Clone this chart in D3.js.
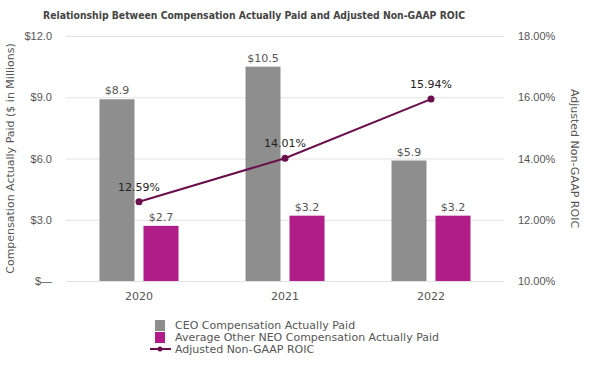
<!DOCTYPE html>
<html>
<head>
<meta charset="utf-8">
<script src="https://cdn.jsdelivr.net/npm/d3@7.9.0/dist/d3.min.js"></script>
<style>
  body { margin: 0; background: #fff; }
  svg { font-family: Verdana, "DejaVu Sans", sans-serif; }
</style>
</head>
<body>
<div id="chart"></div>
<script>
// chart data
const years = ["2020", "2021", "2022"];
const ceoPay = [8.9, 10.5, 5.9];
const neoPay = [2.7, 3.2, 3.2];
const roic = [12.59, 14.01, 15.94];
const leftTicks = [0, 3, 6, 9, 12];
const rightTicks = [10, 12, 14, 16, 18];

const width = 599;
const height = 375;
const margin = { top: 36, right: 95, bottom: 94, left: 66 };

const svg = d3
  .select("#chart")
  .append("svg")
  .attr("width", width)
  .attr("height", height);

const x = d3
  .scaleBand()
  .domain(years)
  .range([margin.left, width - margin.right]);

const yLeft = d3
  .scaleLinear()
  .domain([0, 12])
  .range([height - margin.bottom, margin.top]);

const yRight = d3
  .scaleLinear()
  .domain([10, 18])
  .range([height - margin.bottom, margin.top]);

const barW = 35;
const gap = 9;

// title (narrower than DejaVu renders it, so squeeze to the source width)
svg
  .append("text")
  .attr("x", 254)
  .attr("y", 19)
  .attr("text-anchor", "middle")
  .attr("font-size", 11)
  .attr("font-weight", "bold")
  .attr("fill", "#444")
  .attr("textLength", 422)
  .attr("lengthAdjust", "spacingAndGlyphs")
  .text("Relationship Between Compensation Actually Paid and Adjusted Non-GAAP ROIC");

// gridlines
svg
  .append("g")
  .selectAll("line")
  .data(leftTicks)
  .join("line")
  .attr("x1", margin.left)
  .attr("x2", width - margin.right)
  .attr("y1", (d) => yLeft(d) + 0.5)
  .attr("y2", (d) => yLeft(d) + 0.5)
  .attr("stroke", "#e2e2e2");

// left axis
const leftAxis = d3
  .axisLeft(yLeft)
  .tickValues(leftTicks)
  .tickSize(0)
  .tickPadding(14)
  .tickFormat((d) => (d === 0 ? "$\u2014" : "$" + d.toFixed(1)));

svg
  .append("g")
  .attr("transform", `translate(${margin.left},0)`)
  .call(leftAxis)
  .call((g) => g.select(".domain").remove())
  .call((g) => g.selectAll("text").attr("fill", "#555").attr("font-size", 11).attr("font-family", null));

// right axis
const rightAxis = d3
  .axisRight(yRight)
  .tickValues(rightTicks)
  .tickSize(0)
  .tickPadding(14)
  .tickFormat((d) => d.toFixed(2) + "%");

svg
  .append("g")
  .attr("transform", `translate(${width - margin.right},0)`)
  .call(rightAxis)
  .call((g) => g.select(".domain").remove())
  .call((g) => g.selectAll("text").attr("fill", "#555").attr("font-size", 11).attr("font-family", null));

// axis titles
svg
  .append("text")
  .attr("transform", `translate(14,${(margin.top + height - margin.bottom) / 2}) rotate(-90)`)
  .attr("text-anchor", "middle")
  .attr("font-size", 11)
  .attr("fill", "#555")
  .text("Compensation Actually Paid ($ in Millions)");

svg
  .append("text")
  .attr("transform", `translate(571,${(margin.top + height - margin.bottom) / 2}) rotate(90)`)
  .attr("text-anchor", "middle")
  .attr("font-size", 11)
  .attr("fill", "#555")
  .text("Adjusted Non-GAAP ROIC");

// x axis labels
svg
  .append("g")
  .selectAll("text")
  .data(years)
  .join("text")
  .attr("x", (d) => x(d) + x.bandwidth() / 2)
  .attr("y", height - margin.bottom + 19)
  .attr("text-anchor", "middle")
  .attr("font-size", 11)
  .attr("fill", "#555")
  .text((d) => d);

// bars
const center = (d) => x(d) + x.bandwidth() / 2;

svg
  .append("g")
  .selectAll("rect")
  .data(years)
  .join("rect")
  .attr("x", (d) => center(d) - gap / 2 - barW)
  .attr("y", (d, i) => yLeft(ceoPay[i]))
  .attr("width", barW)
  .attr("height", (d, i) => yLeft(0) - yLeft(ceoPay[i]))
  .attr("fill", "#8e8e8e");

svg
  .append("g")
  .selectAll("rect")
  .data(years)
  .join("rect")
  .attr("x", (d) => center(d) + gap / 2)
  .attr("y", (d, i) => yLeft(neoPay[i]))
  .attr("width", barW)
  .attr("height", (d, i) => yLeft(0) - yLeft(neoPay[i]))
  .attr("fill", "#b01c88");

// bar labels
svg
  .append("g")
  .selectAll("text")
  .data(years)
  .join("text")
  .attr("x", (d) => center(d) - gap / 2 - barW / 2)
  .attr("y", (d, i) => yLeft(ceoPay[i]) - 5)
  .attr("text-anchor", "middle")
  .attr("font-size", 11)
  .attr("fill", "#555")
  .text((d, i) => "$" + ceoPay[i].toFixed(1));

svg
  .append("g")
  .selectAll("text")
  .data(years)
  .join("text")
  .attr("x", (d) => center(d) + gap / 2 + barW / 2)
  .attr("y", (d, i) => yLeft(neoPay[i]) - 5)
  .attr("text-anchor", "middle")
  .attr("font-size", 11)
  .attr("fill", "#555")
  .text((d, i) => "$" + neoPay[i].toFixed(1));

// ROIC line
const line = d3
  .line()
  .x((d, i) => center(years[i]))
  .y((d) => yRight(d));

svg
  .append("path")
  .datum(roic)
  .attr("d", line)
  .attr("fill", "none")
  .attr("stroke", "#6a0f4c")
  .attr("stroke-width", 2);

svg
  .append("g")
  .selectAll("circle")
  .data(roic)
  .join("circle")
  .attr("cx", (d, i) => center(years[i]))
  .attr("cy", (d) => yRight(d))
  .attr("r", 3.5)
  .attr("fill", "#6a0f4c");

svg
  .append("g")
  .selectAll("text")
  .data(roic)
  .join("text")
  .attr("x", (d, i) => center(years[i]))
  .attr("y", (d) => yRight(d) - 11)
  .attr("text-anchor", "middle")
  .attr("font-size", 11)
  .attr("fill", "#222")
  .text((d) => d.toFixed(2) + "%");

// legend
const legendItems = [
  { label: "CEO Compensation Actually Paid", type: "rect", color: "#8e8e8e" },
  { label: "Average Other NEO Compensation Actually Paid", type: "rect", color: "#b01c88" },
  { label: "Adjusted Non-GAAP ROIC", type: "line", color: "#6a0f4c" },
];

const legend = svg.append("g").attr("transform", "translate(150,325)");

legendItems.forEach((item, i) => {
  const row = legend.append("g").attr("transform", `translate(0,${i * 12})`);
  if (item.type === "rect") {
    row
      .append("rect")
      .attr("x", 5)
      .attr("y", -5)
      .attr("width", 10)
      .attr("height", 11)
      .attr("fill", item.color);
  } else {
    row
      .append("line")
      .attr("x1", 0)
      .attr("x2", 21)
      .attr("y1", 0)
      .attr("y2", 0)
      .attr("stroke", item.color)
      .attr("stroke-width", 2);
    row.append("circle").attr("cx", 10).attr("cy", 0).attr("r", 2.5).attr("fill", item.color);
  }
  row
    .append("text")
    .attr("x", 25)
    .attr("y", 4)
    .attr("font-size", 11)
    .attr("fill", "#555")
    .text(item.label);
});
</script>
</body>
</html>
